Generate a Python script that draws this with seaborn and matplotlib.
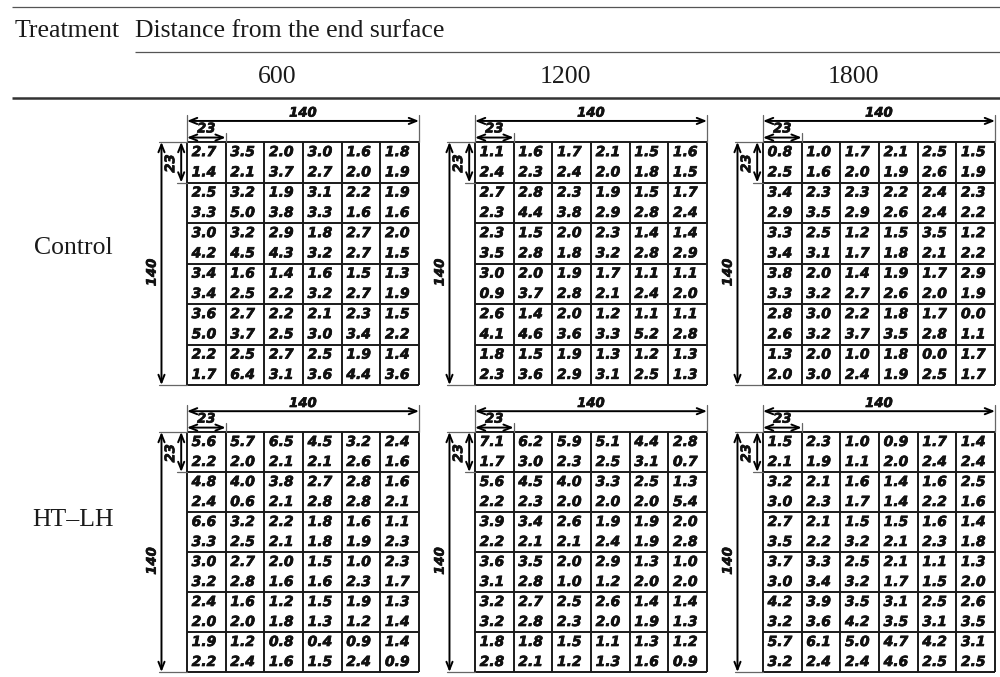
import numpy as np
import matplotlib
matplotlib.use('Agg')
import matplotlib.pyplot as plt
import matplotlib.patheffects as pe
from matplotlib.colors import ListedColormap
import seaborn as sns

# Tabelle: Verteilung der Werte über den Querschnitt (140 x 140, Zellen 23 mm)
distances = [600, 1200, 1800]
treatments = ['Control', 'HT–LH']
size_total = 140
size_cell = 23

# je Zelle zwei Werte (oben / unten) -> 12 Zeilen x 6 Spalten
control_600 = [
    [2.7, 3.5, 2.0, 3.0, 1.6, 1.8],
    [1.4, 2.1, 3.7, 2.7, 2.0, 1.9],
    [2.5, 3.2, 1.9, 3.1, 2.2, 1.9],
    [3.3, 5.0, 3.8, 3.3, 1.6, 1.6],
    [3.0, 3.2, 2.9, 1.8, 2.7, 2.0],
    [4.2, 4.5, 4.3, 3.2, 2.7, 1.5],
    [3.4, 1.6, 1.4, 1.6, 1.5, 1.3],
    [3.4, 2.5, 2.2, 3.2, 2.7, 1.9],
    [3.6, 2.7, 2.2, 2.1, 2.3, 1.5],
    [5.0, 3.7, 2.5, 3.0, 3.4, 2.2],
    [2.2, 2.5, 2.7, 2.5, 1.9, 1.4],
    [1.7, 6.4, 3.1, 3.6, 4.4, 3.6],
]
control_1200 = [
    [1.1, 1.6, 1.7, 2.1, 1.5, 1.6],
    [2.4, 2.3, 2.4, 2.0, 1.8, 1.5],
    [2.7, 2.8, 2.3, 1.9, 1.5, 1.7],
    [2.3, 4.4, 3.8, 2.9, 2.8, 2.4],
    [2.3, 1.5, 2.0, 2.3, 1.4, 1.4],
    [3.5, 2.8, 1.8, 3.2, 2.8, 2.9],
    [3.0, 2.0, 1.9, 1.7, 1.1, 1.1],
    [0.9, 3.7, 2.8, 2.1, 2.4, 2.0],
    [2.6, 1.4, 2.0, 1.2, 1.1, 1.1],
    [4.1, 4.6, 3.6, 3.3, 5.2, 2.8],
    [1.8, 1.5, 1.9, 1.3, 1.2, 1.3],
    [2.3, 3.6, 2.9, 3.1, 2.5, 1.3],
]
control_1800 = [
    [0.8, 1.0, 1.7, 2.1, 2.5, 1.5],
    [2.5, 1.6, 2.0, 1.9, 2.6, 1.9],
    [3.4, 2.3, 2.3, 2.2, 2.4, 2.3],
    [2.9, 3.5, 2.9, 2.6, 2.4, 2.2],
    [3.3, 2.5, 1.2, 1.5, 3.5, 1.2],
    [3.4, 3.1, 1.7, 1.8, 2.1, 2.2],
    [3.8, 2.0, 1.4, 1.9, 1.7, 2.9],
    [3.3, 3.2, 2.7, 2.6, 2.0, 1.9],
    [2.8, 3.0, 2.2, 1.8, 1.7, 0.0],
    [2.6, 3.2, 3.7, 3.5, 2.8, 1.1],
    [1.3, 2.0, 1.0, 1.8, 0.0, 1.7],
    [2.0, 3.0, 2.4, 1.9, 2.5, 1.7],
]
htlh_600 = [
    [5.6, 5.7, 6.5, 4.5, 3.2, 2.4],
    [2.2, 2.0, 2.1, 2.1, 2.6, 1.6],
    [4.8, 4.0, 3.8, 2.7, 2.8, 1.6],
    [2.4, 0.6, 2.1, 2.8, 2.8, 2.1],
    [6.6, 3.2, 2.2, 1.8, 1.6, 1.1],
    [3.3, 2.5, 2.1, 1.8, 1.9, 2.3],
    [3.0, 2.7, 2.0, 1.5, 1.0, 2.3],
    [3.2, 2.8, 1.6, 1.6, 2.3, 1.7],
    [2.4, 1.6, 1.2, 1.5, 1.9, 1.3],
    [2.0, 2.0, 1.8, 1.3, 1.2, 1.4],
    [1.9, 1.2, 0.8, 0.4, 0.9, 1.4],
    [2.2, 2.4, 1.6, 1.5, 2.4, 0.9],
]
htlh_1200 = [
    [7.1, 6.2, 5.9, 5.1, 4.4, 2.8],
    [1.7, 3.0, 2.3, 2.5, 3.1, 0.7],
    [5.6, 4.5, 4.0, 3.3, 2.5, 1.3],
    [2.2, 2.3, 2.0, 2.0, 2.0, 5.4],
    [3.9, 3.4, 2.6, 1.9, 1.9, 2.0],
    [2.2, 2.1, 2.1, 2.4, 1.9, 2.8],
    [3.6, 3.5, 2.0, 2.9, 1.3, 1.0],
    [3.1, 2.8, 1.0, 1.2, 2.0, 2.0],
    [3.2, 2.7, 2.5, 2.6, 1.4, 1.4],
    [3.2, 2.8, 2.3, 2.0, 1.9, 1.3],
    [1.8, 1.8, 1.5, 1.1, 1.3, 1.2],
    [2.8, 2.1, 1.2, 1.3, 1.6, 0.9],
]
htlh_1800 = [
    [1.5, 2.3, 1.0, 0.9, 1.7, 1.4],
    [2.1, 1.9, 1.1, 2.0, 2.4, 2.4],
    [3.2, 2.1, 1.6, 1.4, 1.6, 2.5],
    [3.0, 2.3, 1.7, 1.4, 2.2, 1.6],
    [2.7, 2.1, 1.5, 1.5, 1.6, 1.4],
    [3.5, 2.2, 3.2, 2.1, 2.3, 1.8],
    [3.7, 3.3, 2.5, 2.1, 1.1, 1.3],
    [3.0, 3.4, 3.2, 1.7, 1.5, 2.0],
    [4.2, 3.9, 3.5, 3.1, 2.5, 2.6],
    [3.2, 3.6, 4.2, 3.5, 3.1, 3.5],
    [5.7, 6.1, 5.0, 4.7, 4.2, 3.1],
    [3.2, 2.4, 2.4, 4.6, 2.5, 2.5],
]

grids = {
    ('Control', 600): control_600,
    ('Control', 1200): control_1200,
    ('Control', 1800): control_1800,
    ('HT–LH', 600): htlh_600,
    ('HT–LH', 1200): htlh_1200,
    ('HT–LH', 1800): htlh_1800,
}

W, H = 1000, 677
sns.set_style('white')
plt.rcParams['font.family'] = ['Liberation Serif', 'DejaVu Serif']

fig = plt.figure(figsize=(W / 100, H / 100), dpi=100)

# Kopfzeile der Tabelle (Pixelkoordinaten)
ax0 = fig.add_axes([0, 0, 1, 1])
ax0.set_xlim(0, W)
ax0.set_ylim(H, 0)
ax0.axis('off')

head_kw = dict(fontsize=18.5, color='#1a1a1a')
ax0.hlines(7, 12, W, color='#555555', lw=0.9)
ax0.hlines(52, 135, W, color='#555555', lw=0.9)
ax0.hlines(98, 12, W, color='#333333', lw=1.8)
ax0.text(15, 37, 'Treatment', ha='left', va='baseline', **head_kw)
ax0.text(135, 37, 'Distance from the end surface', ha='left', va='baseline', **head_kw)

grid_left = [187, 475, 763]
grid_top = [142, 432]
grid_w = 232
grid_h = [243, 240]

for j, d in enumerate(distances):
    ax0.text(grid_left[j] + grid_w / 2 - 26, 83, str(d), ha='center', va='baseline', **head_kw)
label_base = [254, 526]
for i, t in enumerate(treatments):
    ax0.text(73, label_base[i], t, ha='center', va='baseline', **head_kw)

# fette, kursive Zahlen etwas kräftiger machen
heavy = [pe.withStroke(linewidth=0.5, foreground='#111111')]
num_kw = dict(family='DejaVu Sans', fontsize=10, fontweight='bold',
              fontstyle='italic', color='#111111', path_effects=heavy)
dim_kw = dict(family='DejaVu Sans', fontsize=9.5, fontweight='bold',
              fontstyle='italic', color='#111111', ha='center', va='center_baseline',
              path_effects=heavy)
arrow_kw = dict(arrowstyle='<->,head_length=0.55,head_width=0.22', lw=1.4,
                color='black', shrinkA=0, shrinkB=0, mutation_scale=10)
ext_kw = dict(color='#666666', lw=0.9, clip_on=False)

for i, treat in enumerate(treatments):
    for j, dist in enumerate(distances):
        vals = np.array(grids[(treat, dist)])
        nrow, ncol = vals.shape
        ax = fig.add_axes([grid_left[j] / W, 1 - (grid_top[i] + grid_h[i]) / H,
                           grid_w / W, grid_h[i] / H])
        sns.heatmap(vals, ax=ax, cmap=ListedColormap(['white']), cbar=False,
                    annot=True, fmt='.1f', annot_kws=num_kw,
                    xticklabels=False, yticklabels=False)
        # Werte linksbündig in der Zelle
        for t in ax.texts:
            x, y = t.get_position()
            t.set_position((x - 0.38, y))
            t.set_ha('left')

        # Zellrahmen: ein Kasten pro Zellenpaar
        ax.hlines(range(0, nrow + 1, 2), 0, ncol, color='#1a1a1a', lw=1.4, clip_on=False)
        ax.vlines(range(ncol + 1), 0, nrow, color='#1a1a1a', lw=1.4, clip_on=False)

        # Bemaßung oben
        ax.plot([0, 0], [0, -1.33], **ext_kw)
        ax.plot([ncol, ncol], [0, -1.33], **ext_kw)
        ax.plot([1, 1], [0, -0.45], **ext_kw)
        ax.annotate('', xy=(0, -1.04), xytext=(ncol, -1.04), arrowprops=arrow_kw,
                    annotation_clip=False)
        ax.text(ncol / 2, -1.5, str(size_total), **dim_kw)
        ax.annotate('', xy=(0, -0.22), xytext=(1, -0.22), arrowprops=arrow_kw,
                    annotation_clip=False)
        ax.text(0.5, -0.72, str(size_cell), **dim_kw)

        # Bemaßung links
        ax.plot([-0.72, 0], [0, 0], **ext_kw)
        ax.plot([-0.72, 0], [nrow, nrow], **ext_kw)
        ax.plot([-0.26, 0], [2, 2], **ext_kw)
        ax.annotate('', xy=(-0.66, 0), xytext=(-0.66, nrow), arrowprops=arrow_kw,
                    annotation_clip=False)
        ax.text(-0.9, nrow / 2, str(size_total), rotation=90, **dim_kw)
        ax.annotate('', xy=(-0.15, 0), xytext=(-0.15, 2), arrowprops=arrow_kw,
                    annotation_clip=False)
        ax.text(-0.42, 0.85, str(size_cell), rotation=90, **dim_kw)

        ax.set_xlim(0, ncol)
        ax.set_ylim(nrow, 0)

fig.savefig('out.png', dpi=100)
